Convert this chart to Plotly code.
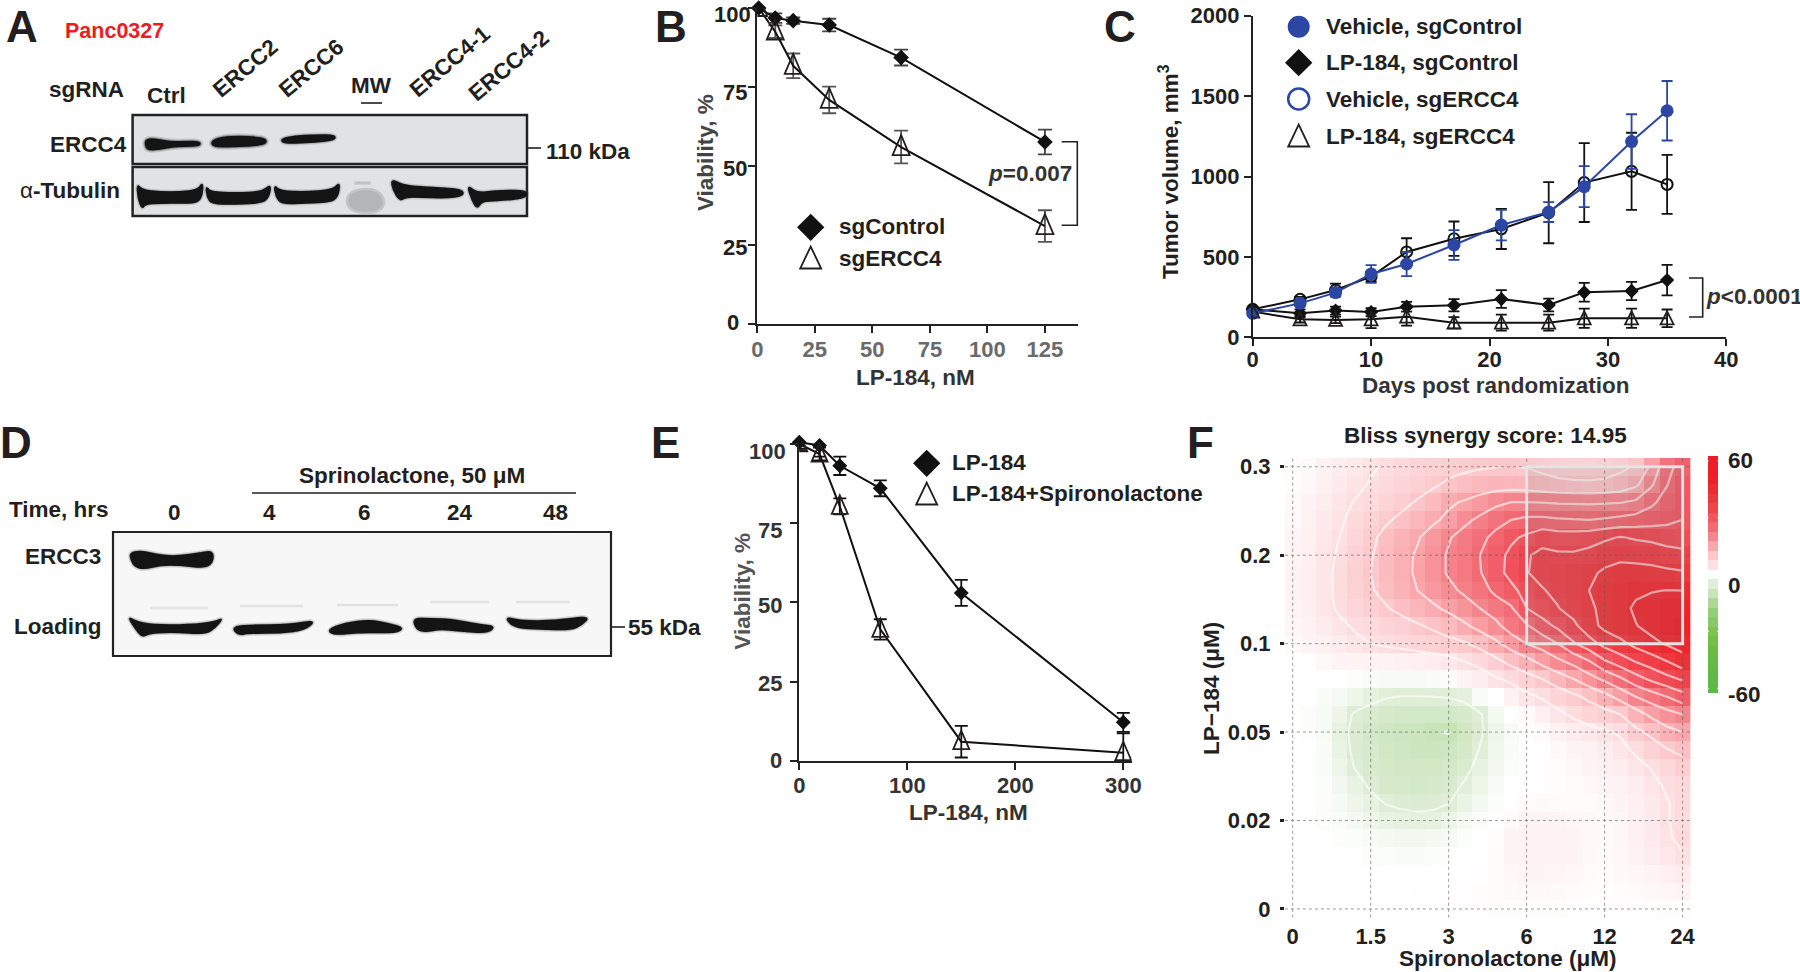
import plotly.graph_objects as go

W, H = 1800, 972
FONT = "Liberation Sans"
INK = "#231f20"

# ---------- Panel B data ----------
b_dose = [0.6, 7.8, 15.6, 31.25, 62.5, 125]
b_ctrl = [100, 96.8, 96, 94.6, 84.3, 57.6]
b_ctrl_err = [0, 1.5, 1, 2, 2.5, 3.9]
b_ercc4 = [100, 92.5, 81.7, 70.9, 56, 31]
b_ercc4_err = [0, 2, 3.9, 4.2, 5.2, 5]

# ---------- Panel C data ----------
c_days = [0, 4, 7, 10, 13, 17, 21, 25, 28, 32, 35]
c_veh_ctrl = [149, 211, 278, 394, 456, 574, 698, 779, 937, 1217, 1409]
c_veh_ctrl_err = [15, 15, 25, 55, 75, 93, 95, 62, 128, 170, 185]
c_veh_ercc4 = [174, 236, 294, 377, 531, 613, 674, 775, 962, 1032, 951]
c_veh_ercc4_err = [15, 15, 40, 30, 85, 107, 125, 190, 245, 240, 183]
c_lp_ctrl = [174, 149, 166, 157, 190, 199, 238, 201, 280, 288, 356]
c_lp_ctrl_err = [15, 25, 25, 25, 30, 38, 55, 40, 58, 57, 95]
c_lp_ercc4 = [160, 112, 108, 112, 128, 91, 91, 91, 118, 118, 118]
c_lp_ercc4_err = [15, 20, 20, 55, 55, 35, 50, 50, 60, 60, 55]

# ---------- Panel E data ----------
e_dose = [0, 18.75, 37.5, 75, 150, 300]
e_lp = [100.5, 99.5, 93.1, 86, 53, 12.2]
e_lp_err = [2.5, 3.5, 2.9, 2.5, 4.1, 3]
e_combo = [100, 96.8, 80.3, 41.5, 6.1, 2.6]
e_combo_err = [1.5, 2, 2.5, 3.2, 5, 6.1]

# ---------- Panel F data (rows top to bottom: LP-184 high -> 0) ----------
f_x_labels = ["0", "1.5", "3", "6", "12", "24"]
f_y_labels = ["0", "0.02", "0.05", "0.1", "0.2", "0.3"]
bliss_rows = [
 [.3,.5,1.5,2.5,3.5,4.5,5.5,6.5,7.2,8,8.6,9.2,9.6,9.9,10.1,9.8,9,8.3,8,8,8.3,9,10.5,16,23.5,27],
 [.3,.6,1.6,3,4.1,5.3,6.3,7.2,8.2,9.4,10.7,11.5,12.2,12.7,12.8,12.5,11.7,11,10.7,10.6,10.8,11.8,14,19.3,24.8,29],
 [.5,1,2.4,4,5.2,6.2,7.3,8.8,10.4,12,14.3,15.4,17,18.8,20,20,19.8,19.5,19.4,19.3,19.5,19.7,20.8,24,27,29.5],
 [.7,1.4,3,4.5,6,7.6,9.4,11,12.7,14.2,16,18.8,21,23.3,25,26,26,25.5,25.2,25,25.5,26.3,27,27.8,28.8,30],
 [1,1.8,3.4,5,7,9,11.4,13,14.6,17,19.6,21.8,23.8,26.2,29,31,33.5,32.5,32.5,33,34.2,35.3,34.5,34,33,32.5],
 [1.2,2,3.8,5.5,8,9.6,12,13.7,15.5,18,20.5,22.3,25,28,31.2,34.6,36,35.7,35.6,36.5,38,38.8,38.3,37.8,37,36.5],
 [1.4,2.2,4,5.8,8.2,10,11.9,13.6,15.7,18,20.5,22.2,24.7,28,31.6,34.8,36.2,37,37.8,39,40.8,41.8,42,41.7,41,40.5],
 [1.4,2.2,4,5.8,7.8,9.6,11.3,13,15,17,18.8,20.8,23,26,28.5,32,34.7,36,37.6,40,42,43.3,44.2,44.8,45.1,45],
 [1.2,2,3.8,5.6,7,8.4,9.7,11.3,12.7,14.2,16,17.8,20,22.5,24.4,30,32.5,34.8,37,39.3,41,43.6,45.7,46.5,47.3,48.5],
 [.8,1.5,2.8,4.2,5.5,6.3,7.2,8.2,9.5,10.7,12,14.2,16.5,18.6,22.5,24.5,28,31,33.8,38,41.3,43.2,44.8,46.5,48.5,50],
 [.5,1,1.8,2.8,4,5,5.7,6.4,7.2,8,8.7,9.5,11.5,14,17,20,22,25,29.5,33,36.5,38.7,41.5,43.8,45.5,47],
 [0,.2,.6,1,1.2,1.3,1.5,1.7,2,2.5,3.5,5,6.5,8.8,11.5,13.5,16.5,19,21.5,24.7,29.5,32.5,35.3,37.5,40,43],
 [0,0,0,-.1,-.3,-.7,-1,-1,-1,-.8,-.4,1,2.5,4.5,6,8,10,12.5,15,18,21,24.2,28,31,33.5,35.6],
 [0,-.1,-.8,-1.2,-2.5,-4,-4.8,-5.1,-5.1,-5,-4.8,-4.2,-.8,0,1.8,4,5.5,7.3,9,11,13.5,16.5,20,22.5,25,28],
 [0,-.4,-1,-3,-5.5,-6.3,-7,-7.5,-7.5,-7.6,-7.5,-6.8,-5.5,-1.5,-.2,.5,2,4,5.8,7.3,8.3,10,13,16,18.2,20],
 [0,-.3,-1,-3.7,-6,-7.5,-8.3,-8.8,-9.2,-9.8,-10.2,-8,-5.8,-2.5,-1,-.3,.5,1.5,2.5,3.5,4.5,5.5,9,11,13.5,15],
 [0,-.2,-.8,-3.3,-5.8,-6.8,-8,-8.5,-8.8,-9,-8.6,-7.3,-4.8,-2.2,-.8,-.2,.2,.5,1,1.5,2.5,3.8,5.7,8,9.8,11],
 [0,-.2,-.7,-2.5,-5.2,-6.5,-7.6,-8,-8,-8,-7.6,-6.2,-3.8,-1.8,-.6,0,.2,.3,.6,1,1.6,2.5,3.8,5.2,6.8,8.5],
 [0,-.1,-.5,-1.8,-3.5,-5.6,-7,-7.2,-7.4,-7.2,-6.6,-4.6,-2.5,-1,-.2,.1,.2,.3,.4,.6,1,1.5,2.5,4,5.5,6.5],
 [0,-.1,-.4,-1.2,-2.5,-3.8,-5.2,-5.6,-5.8,-5.7,-5.1,-3.2,-1.6,-.5,.1,.4,.5,.4,.4,.4,.6,1,2,3.2,4.8,6],
 [0,-.1,-.3,-.7,-1.5,-2.5,-3.5,-4,-4.2,-4,-3,-1.6,-.6,0,.5,1,1.2,1,.8,.6,.5,.8,1.7,3,4.9,5.5],
 [0,0,-.1,-.3,-.6,-1,-1.5,-1.8,-1.8,-1.6,-1.2,-.5,-.1,.3,1,1.5,1.5,1.4,1,.7,.5,.8,1.7,3,4.5,6],
 [0,0,0,-.1,-.2,-.4,-.6,-.7,-.7,-.5,-.3,0,.1,.4,1,1.4,1.5,1.3,1,.6,.4,.7,1.4,2.5,3.5,4.6],
 [0,0,0,0,0,-.1,-.2,-.2,-.2,-.1,0,.1,.2,.4,.7,1,1,.9,.7,.4,.3,.5,.8,1.3,2,2.8],
 [0,0,0,0,0,0,0,0,.1,.1,.1,.2,.3,.4,.5,.6,.6,.5,.4,.3,.2,.3,.4,.6,.8,1],
 [0,0,0,0,0,0,0,.1,.1,.1,.2,.2,.2,.3,.3,.3,.3,.3,.2,.2,.2,.2,.2,.2,.3,.3],
]
bliss_z = bliss_rows[::-1]
bar_scores = [-60, -55, -50, -45, -40, -35, -30, -25, -20, -15, -10, -5, 0, 5, 10, 15, 20, 25, 30, 35, 40, 45, 50, 55, 60]

# ---------- colour stops (score, colour) ----------
score_colors = [
 (-60,"#5ab947"),(-42,"#66bb45"),(-32,"#7dc142"),(-26,"#8ac666"),(-20,"#98cd78"),(-15,"#aed896"),
 (-10,"#c8e4b8"),(-5,"#e0eed8"),(-1,"#f7fbf5"),(0,"#ffffff"),(1,"#fff4f5"),(5,"#fde0e2"),
 (10,"#fcc8cb"),(15,"#f9a7ac"),(20,"#f5858c"),(25,"#f26a74"),(30,"#f05560"),(35,"#ef444e"),
 (40,"#ee383f"),(45,"#ee2b32"),(50,"#ee2028"),(60,"#ee1c25"),
]
colorscale = [[(s + 60) / 120, c] for s, c in score_colors]

# ---------- helpers: page pixels -> paper ----------
px = lambda x: x / W
py = lambda y: 1 - y / H
annotations, shapes = [], []

def T(x, y, s, size=22.5, color=INK, anchor="left", angle=0, bold=True):
    annotations.append(dict(xref="paper", yref="paper", x=px(x), y=py(y), text=f"<b>{s}</b>" if bold else s,
                            showarrow=False, xanchor=anchor, yanchor="middle", textangle=angle, borderpad=0,
                            font=dict(family=FONT, size=size, color=color)))

def fmt(p):
    return f"{px(p[0]):.5f},{py(p[1]):.5f}"

def path(points, fill=None, color=INK, width=0, opacity=1.0, closed=True):
    d = "M" + " L".join(fmt(p) for p in points) + (" Z" if closed else "")
    shapes.append(dict(type="path", xref="paper", yref="paper", path=d, fillcolor=fill or "rgba(0,0,0,0)",
                       line=dict(color=color, width=width), opacity=opacity, layer="above"))

def soft(points, fill, color, width, opacity=1.0):
    # rounded outline: quadratic curves through the edge midpoints
    n = len(points)
    mid = lambda a, b: ((a[0] + b[0]) / 2, (a[1] + b[1]) / 2)
    d = "M" + fmt(mid(points[-1], points[0]))
    for i in range(n):
        d += " Q" + fmt(points[i]) + " " + fmt(mid(points[i], points[(i + 1) % n]))
    d += " Z"
    shapes.append(dict(type="path", xref="paper", yref="paper", path=d, fillcolor=fill,
                       line=dict(color=color, width=width), opacity=opacity, layer="above"))

def band(points, core="#141414", halo="#555555", spread=3.5):
    soft(points, halo, halo, spread + 2.5, 0.2)
    soft(points, halo, halo, spread, 0.45)
    soft(points, core, core, 1.5)

def frame(x0, y0, x1, y1, fill, width=2.5):
    shapes.append(dict(type="rect", xref="paper", yref="paper", x0=px(x0), x1=px(x1), y0=py(y1), y1=py(y0),
                       fillcolor=fill, line=dict(color="#222", width=width), layer="below"))

def seg(x0, y0, x1, y1, color=INK, width=1.6):
    shapes.append(dict(type="line", xref="paper", yref="paper", x0=px(x0), x1=px(x1), y0=py(y0), y1=py(y1),
                       line=dict(color=color, width=width), layer="above"))

def tri(xr, yr, x, y, hw, up, down, color=INK, width=1.8):
    shapes.append(dict(type="path", xref=xr, yref=yr, xsizemode="pixel", ysizemode="pixel", xanchor=x, yanchor=y,
                       path=f"M{-hw},{-down} L{hw},{-down} L0,{up} Z", fillcolor="rgba(0,0,0,0)",
                       line=dict(color=color, width=width), layer="above"))

def dom(a, b, total):
    return [a / total, b / total]

def ydom(top, bottom):
    return [1 - bottom / H, 1 - top / H]

fig = go.Figure()

def series(x, y, err, xa, ya, color, symbol=None, size=10, lw=2, errcolor=None, cap=6, name="", fill=None, mline=0, mcolor=None):
    mode = "lines+markers" if symbol else "lines"
    marker = dict(symbol=symbol, size=size, color=fill or color, line=dict(color=mcolor or color, width=mline)) if symbol else None
    fig.add_trace(go.Scatter(x=x, y=y, mode=mode, xaxis=xa, yaxis=ya, name=name, showlegend=False, cliponaxis=False,
                             line=dict(color=color, width=lw), marker=marker,
                             error_y=dict(type="data", array=err, visible=True, color=errcolor or color, thickness=1.8, width=cap)))

# ---------- Panel B ----------
series(b_dose, b_ercc4, b_ercc4_err, "x", "y", "#111", errcolor="#555", cap=7, name="sgERCC4")
series(b_dose, b_ctrl, b_ctrl_err, "x", "y", "#111", "diamond", 12, errcolor="#444", cap=7, name="sgControl")
for a, b in zip(b_dose, b_ercc4):
    tri("x", "y", a, b, 8.5, 12, 8)

# ---------- Panel C ----------
series(c_days, c_veh_ercc4, c_veh_ercc4_err, "x2", "y2", "#111", "circle-open", 11, errcolor="#111", cap=5.5, name="Vehicle, sgERCC4", mline=2)
series(c_days, c_lp_ercc4, c_lp_ercc4_err, "x2", "y2", "#111", errcolor="#111", cap=5.5, name="LP-184, sgERCC4")
series(c_days, c_lp_ctrl, c_lp_ctrl_err, "x2", "y2", "#111", "diamond", 11, errcolor="#111", cap=5.5, name="LP-184, sgControl")
series(c_days, c_veh_ctrl, c_veh_ctrl_err, "x2", "y2", "#2b46a3", "circle", 13, errcolor="#2b46a3", cap=5.5, name="Vehicle, sgControl")
for a, b in zip(c_days, c_lp_ercc4):
    tri("x2", "y2", a, b, 6.5, 7, 6)

# ---------- Panel E ----------
series(e_dose, e_combo, e_combo_err, "x3", "y3", "#111", errcolor="#111", cap=6.5, name="LP-184+Spironolactone")
series(e_dose, e_lp, e_lp_err, "x3", "y3", "#111", "diamond", 11.5, errcolor="#111", cap=6.5, name="LP-184")
for a, b in zip(e_dose, e_combo):
    tri("x3", "y3", a, b, 8, 11, 7.5)

# ---------- Panel F ----------
fig.add_trace(go.Heatmap(z=bliss_z, xaxis="x4", yaxis="y4", colorscale=colorscale, zmin=-60, zmax=60, zsmooth=False,
                         hoverinfo="skip", name="Bliss synergy", showscale=False))
for lo, hi in ((5, 50), (-10, -5)):
    fig.add_trace(go.Contour(z=bliss_z, xaxis="x4", yaxis="y4", autocontour=False, showscale=False, hoverinfo="skip",
                             contours=dict(coloring="none", start=lo, end=hi, size=5),
                             line=dict(color="rgba(255,255,255,0.6)", width=2.2, smoothing=0)))
grid_idx = [0, 5, 10, 15, 20, 25]
for g in grid_idx:
    shapes.append(dict(type="line", xref="x4", yref="y4", x0=g, x1=g, y0=-.5, y1=25.5, layer="above",
                       line=dict(color="rgba(90,90,90,0.6)", width=1, dash="dot")))
    shapes.append(dict(type="line", xref="x4", yref="y4", x0=-.5, x1=25.5, y0=g, y1=g, layer="above",
                       line=dict(color="rgba(90,90,90,0.6)", width=1, dash="dot")))
shapes.append(dict(type="rect", xref="x4", yref="y4", x0=15, x1=25, y0=15, y1=25, layer="above",
                   fillcolor="rgba(120,120,120,0.14)", line=dict(color="#e4e4e4", width=3)))

# colour bar as its own small heatmap
fig.add_trace(go.Heatmap(z=[[s] for s in bar_scores], y=bar_scores, xaxis="x6", yaxis="y6", colorscale=colorscale, zmin=-60, zmax=60,
                         zsmooth=False, hoverinfo="skip", name="colour bar", showscale=False))
for v in (-60, -30, 30, 60):
    for side in (-.5, .42):
        shapes.append(dict(type="line", xref="x6", yref="y6", x0=side, x1=side + .08, y0=v * 1.0, y1=v * 1.0, layer="above",
                           line=dict(color="white", width=1)))

# ---------- legend keys on a page-sized hidden axis ----------
def key(x, y, symbol, size, color, lw=0, lc=None, name=""):
    fig.add_trace(go.Scatter(x=[x], y=[y], mode="markers", xaxis="x5", yaxis="y5", showlegend=False, name=name, hoverinfo="skip",
                             marker=dict(symbol=symbol, size=size, color=color, line=dict(color=lc or color, width=lw))))

key(810.7, 227.3, "diamond", 21, "#111", name="key sgControl")
tri("x5", "y5", 810.7, 258, 10.5, 11.5, 10.5)
key(1298.7, 26.7, "circle", 22, "#2b46a3", name="key vehicle control")
key(1298.7, 62.7, "diamond", 21, "#111", name="key LP control")
key(1298.7, 99, "circle-open", 21, "#2b46a3", lw=2.5, name="key vehicle ERCC4")
tri("x5", "y5", 1298.7, 136, 10.5, 11.5, 10.5)
key(926.7, 463.3, "diamond", 21, "#111", name="key LP")
tri("x5", "y5", 926.7, 494, 10.5, 11.5, 10.5)

# ---------- page text ----------
for s, x, y in (("A", 22, 26.5), ("B", 671, 26.5), ("C", 1120, 26.5), ("D", 16, 442), ("E", 665, 442), ("F", 1200, 442)):
    T(x, y, s, size=44, anchor="center")

# Panel A
T(64, 31, "Panc0327", size=21.5, color="#ed1c24")
T(48, 90, "sgRNA")
T(166, 95, "Ctrl", anchor="center")
T(245, 68, "ERCC2", anchor="center", angle=-40)
T(311, 68, "ERCC6", anchor="center", angle=-40)
T(371, 86, "MW", anchor="center")
seg(361, 103, 382, 103)
T(450, 62, "ERCC4-1", anchor="center", angle=-40)
T(509, 66, "ERCC4-2", anchor="center", angle=-40)
T(49, 144, "ERCC4")
T(19, 190, "α<b>-Tubulin</b>", bold=False)
T(545, 151, "110 kDa")
seg(528, 148, 541, 148)
frame(132.6, 115, 527, 164, "#e1e2e4")
frame(132.6, 167, 527, 216, "#e1e2e4")
band([(145,141),(150,138.5),(160,140),(172,142),(185,141.5),(200,141.5),(200,146),(185,146),(172,147),(160,149),(150,150),(146,148)])
band([(212,141),(222,137),(240,136.5),(255,137),(266,139),(266,144),(250,146),(230,146.5),(218,147),(212,145)])
band([(281,139),(295,136),(315,135),(335,135),(335,140),(315,142),(295,143),(283,143)], spread=2.5)
band([(137,184),(142,190),(160,192),(180,192),(198,190),(203,182),(202,197),(196,203),(180,203),(160,203),(145,204),(142,209),(138,198)], spread=2)
band([(206,186),(210,192),(235,193),(262,192),(271,184),(269,197),(262,203),(235,204),(212,204),(207,197)], spread=2)
band([(274,185),(280,191),(305,192),(333,190),(340,182),(338,197),(330,202),(305,203),(282,204),(276,197)], spread=2)
band([(391,179),(402,185),(420,187),(445,188),(463,190),(463,196),(445,198),(420,197),(406,197),(400,201),(393,190)], spread=2)
band([(467,185),(477,193),(495,191),(527,190),(527,198),(495,201),(482,201),(477,209),(472,200)], spread=2)
soft([(347,195),(358,189),(375,189),(384,197),(384,207),(375,213),(358,213),(347,207)], "#b4b5b7", "#c4c5c7", 2.5)
path([(355,182),(370,182),(370,184),(355,184)], fill="#a8a9ab", color="#c8c9cb", width=1.5)

# Panel D
T(297.5, 475, "Sprinolactone, 50 μM")
seg(252, 493, 576, 493)
T(8, 509, "Time, hrs")
for lab, x in zip(["0", "4", "6", "24", "48"], [174, 269.5, 364.6, 460, 555]):
    T(x, 512.7, lab, anchor="center")
T(102, 556, "ERCC3", anchor="right")
T(102, 626.7, "Loading", anchor="right")
T(627, 627, "55 kDa")
seg(611, 627, 625, 627)
frame(113, 532, 611, 656, "#f7f7f7", width=2.2)
for x0, x1, y in ((150, 208, 608), (240, 303, 606), (337, 398, 605), (430, 489, 602), (516, 570, 602)):
    seg(x0, y, x1, y, color="#e2e2e2", width=2.5)
band([(130,553),(140,551),(150,553),(165,556),(180,556),(200,553),(213,551),(213,562),(205,568),(180,565),(160,565),(145,569),(135,567),(131,560)], spread=2.5)
band([(128,617),(135,621),(150,625),(190,625),(215,622),(223,618),(215,628),(205,634),(175,632),(150,633),(142,637),(135,628)], spread=2.5)
band([(232,627),(250,625),(290,625),(316,620),(305,630),(280,633),(250,633),(238,635)], spread=2.5)
band([(327,630),(345,623),(370,620),(390,624),(404,628),(395,633),(360,632),(335,635)], spread=2.5)
band([(413,618),(430,619),(450,619),(480,625),(495,626),(488,633),(460,631),(440,629),(425,632),(416,629)], spread=2.5)
band([(506,617),(520,621),(555,621),(590,616),(582,625),(570,630),(540,629),(520,628),(510,624)], spread=2.5)

# Panel B text
T(916, 378, "LP-184, nM", anchor="center", color="#333")
T(705, 153, "Viability, %", anchor="center", angle=-90, color="#444")
T(838, 227, "sgControl")
T(838, 258, "sgERCC4")
T(987, 173, "<i>p</i>=0.007", color="#333")
path([(1061.7, 141.7), (1077.3, 141.7), (1077.3, 225.3), (1061.7, 225.3)], color="#222", width=1.6, closed=False)
# y tick labels of B and E sit a little off their ticks in the original
for lab, xr, yc in (("100", 752, 14.7), ("75", 748, 93), ("50", 748, 168), ("25", 748, 248), ("0", 740, 322)):
    T(xr, yc, lab, size=22, anchor="right")
for lab, xr, yc in (("100", 787, 451.7), ("75", 783, 530), ("50", 783, 605), ("25", 783, 683), ("0", 783, 760)):
    T(xr, yc, lab, size=22, anchor="right", color="#333")

# Panel C text
T(1496, 385, "Days post randomization", anchor="center", color="#333")
T(1169, 172, "Tumor volume, mm<sup>3</sup>", anchor="center", angle=-90)
T(1324.5, 26.7, "Vehicle, sgControl")
T(1324.5, 62.7, "LP-184, sgControl")
T(1324.5, 99, "Vehicle, sgERCC4")
T(1324.5, 136, "LP-184, sgERCC4")
T(1705, 296.7, "<i>p</i>&lt;0.0001", color="#333")
path([(1689, 278), (1702.7, 278), (1702.7, 317), (1689, 317)], color="#222", width=1.6, closed=False)

# Panel E text
T(968, 812.7, "LP-184, nM", anchor="center", color="#333")
T(743, 591.7, "Viability, %", anchor="center", angle=-90, color="#555")
T(951, 462.7, "LP-184")
T(951, 494, "LP-184+Spironolactone")

# Panel F text
T(1485.7, 435, "Bliss synergy score: 14.95", anchor="center")
T(1508, 958.6, "Spironolactone (μM)", anchor="center")
T(1211, 689, "LP−184 (μM)", anchor="center", angle=-90)
T(1727, 460.7, "60")
T(1727, 585.7, "0")
T(1727, 694.5, "-60")

# ---------- axes ----------
def axis(domain, rng, tickvals, anchor, ticktext=None, color=INK, size=22, ticklen=7, line=True, **kw):
    d = dict(domain=domain, range=rng, tickmode="array", tickvals=tickvals, anchor=anchor, showgrid=False, zeroline=False,
             automargin=False, showline=line, linecolor="#222", linewidth=1.8, ticks="outside", ticklen=ticklen, tickwidth=1.6,
             tickcolor="#222", tickfont=dict(family=FONT, size=size, color=color, weight="bold"))
    if ticktext is not None:
        d["ticktext"] = ticktext
    d.update(kw)
    return d

fig.update_layout(
    template="none",
    width=W, height=H, margin=dict(l=0, r=0, t=0, b=0, pad=0), autosize=False, paper_bgcolor="white", plot_bgcolor="rgba(0,0,0,0)",
    showlegend=False, annotations=annotations, shapes=shapes,
    xaxis=axis(dom(757.3, 1078.3, W), [0, 139.5], [0, 25, 50, 75, 100, 125], "y", color="#6a6a6a", ticklabelstandoff=-2),
    yaxis=axis(ydom(8, 324), [0, 100], [0, 25, 50, 75, 100], "x", showticklabels=False),
    xaxis2=axis(dom(1252.7, 1726.3, W), [0, 40], [0, 10, 20, 30, 40], "y2", ticklabelstandoff=-6),
    yaxis2=axis(ydom(15.7, 337.3), [0, 2000], [0, 500, 1000, 1500, 2000], "x2"),
    xaxis3=axis(dom(799.3, 1131.7, W), [0, 307.8], [0, 100, 200, 300], "y3", color="#333", ticklabelstandoff=-3),
    yaxis3=axis(ydom(441.7, 761), [0, 100.7], [0, 25, 50, 75, 100], "x3", showticklabels=False),
    xaxis4=axis(dom(1284.9, 1690.4, W), [-.5, 25.5], grid_idx, "y4", ticktext=f_x_labels, line=False, ticks="", ticklen=0,
                ticklabelstandoff=3),
    yaxis4=axis(ydom(457.9, 917.8), [-.5, 25.5], grid_idx, "x4", ticktext=f_y_labels, line=False, ticklen=4, tickwidth=3,
                ticklabelstandoff=5),
    xaxis5=dict(domain=[0, 1], range=[0, W], visible=False, anchor="y5", fixedrange=True, automargin=False),
    yaxis5=dict(domain=[0, 1], range=[H, 0], visible=False, anchor="x5", fixedrange=True, automargin=False),
    xaxis6=dict(domain=dom(1708, 1718, W), visible=False, anchor="y6", range=[-.5, .5], fixedrange=True, automargin=False),
    yaxis6=dict(domain=ydom(456, 693), visible=False, anchor="x6", range=[-62.5, 62.5], fixedrange=True, automargin=False),
)

fig.write_html("out.html", config={"displayModeBar": False},
               post_script="document.body.style.margin='0';document.documentElement.style.overflow='hidden';")
